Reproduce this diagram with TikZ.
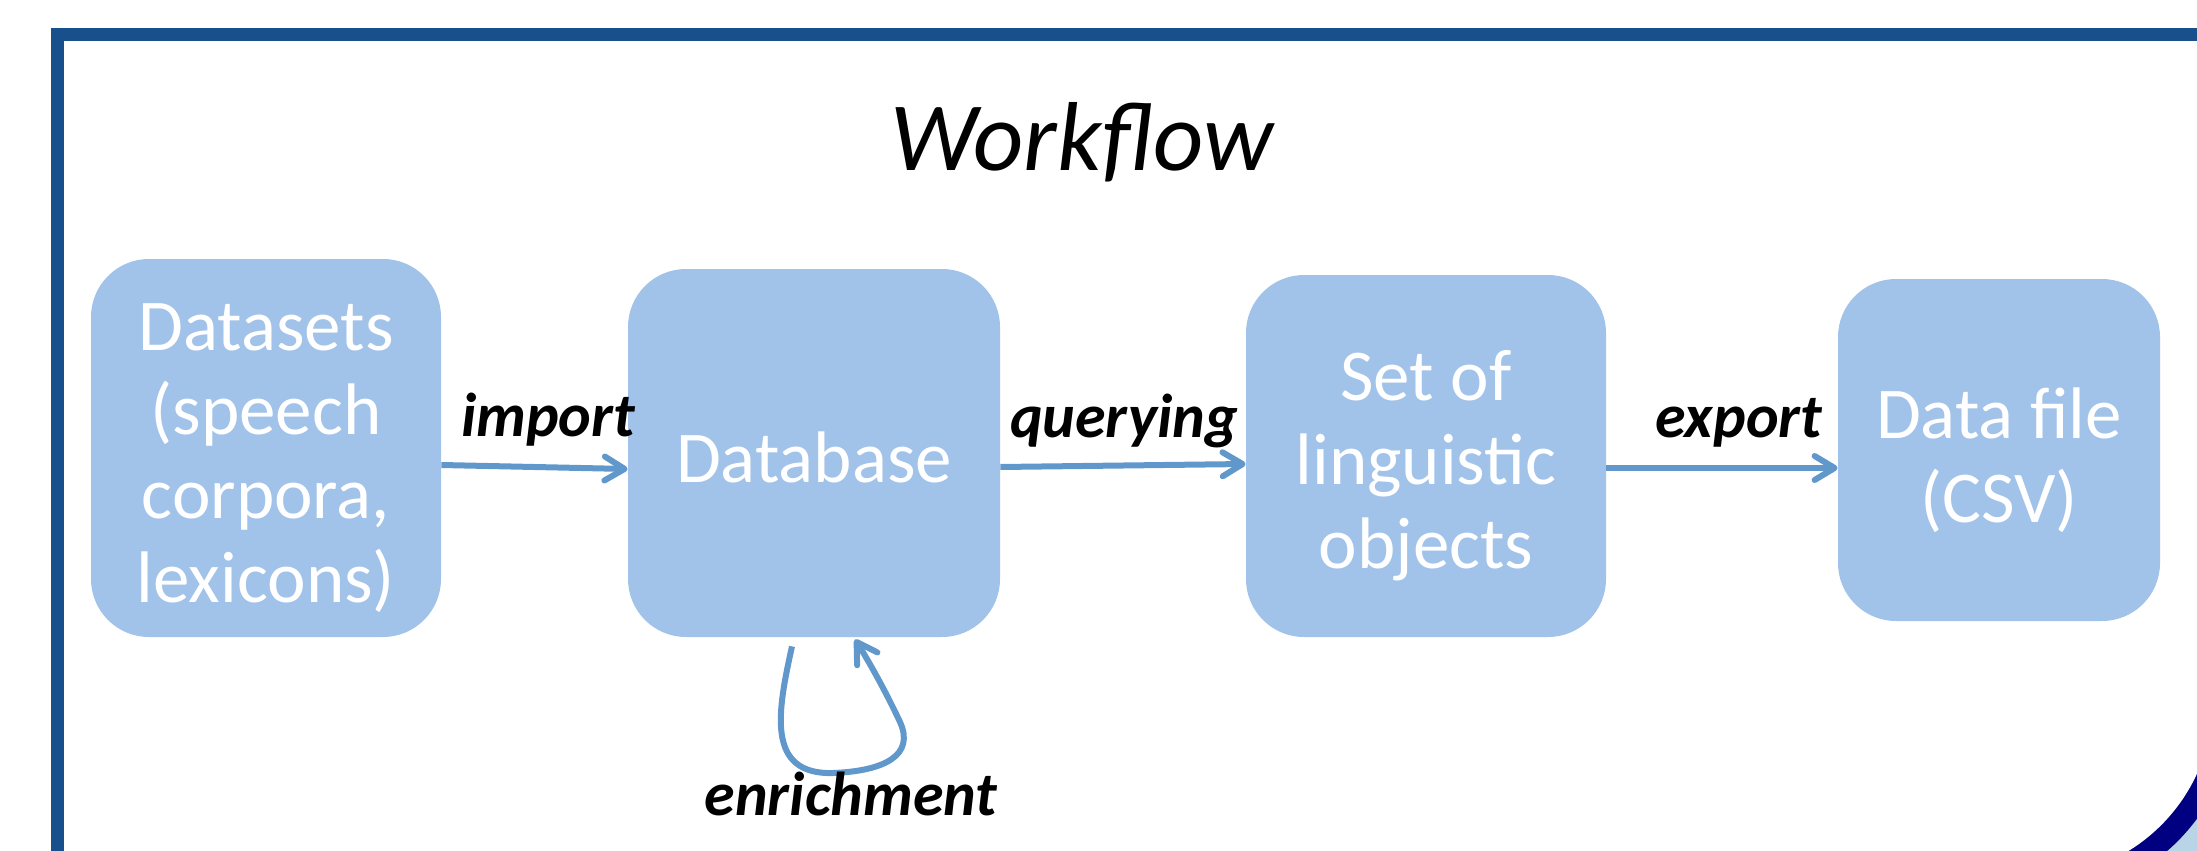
\documentclass[tikz,border=0pt]{standalone}
\usepackage{fontspec}
\setmainfont{Carlito}
\usetikzlibrary{arrows.meta,calc}

\definecolor{boxfill}{RGB}{161,194,233}
\definecolor{connblue}{RGB}{97,152,204}
\definecolor{framblue}{RGB}{23,80,138}
\definecolor{arcnavy}{RGB}{0,0,128}
\definecolor{arcfill}{RGB}{184,212,230}

\tikzset{
  stagebox/.style={fill=boxfill, rounded corners=29pt, inner sep=0pt},
  stagetext/.style={text=white, align=center, inner sep=0pt,
    font=\fontsize{36.5}{42}\selectfont},
  conn/.style={draw=connblue, line width=3pt,
    -{Straight Barb[length=10pt,width=12pt,round]}},
  edgelabel/.style={anchor=base, font=\fontsize{31}{36}\selectfont\bfseries\itshape},
  frameline/.style={draw=framblue, line width=6.5pt}
}

\begin{document}
\begin{tikzpicture}[x=0.5pt, y=-0.5pt]
  \useasboundingbox (0,0) rectangle (2197,851);

  % page frame
  \draw[frameline] (57.5,851) -- (57.5,34.5) -- (2197,34.5);

  % rounded corner of the slide at the bottom right
  \begin{scope}
    \clip (2036,700) rectangle (2197,851);
    \fill[arcfill] (2036,700) rectangle (2197,851);
    \fill[arcnavy] (2036,700) circle[radius=200];
    \fill[white] (2036,700) circle[radius=177];
  \end{scope}

  % title
  \node[anchor=base, font=\fontsize{49}{58}\selectfont\itshape] (title) at (1082,170) {Workflow};

  % stages
  \node[stagebox, minimum width=175pt, minimum height=189pt] (b1) at (266,448) {};
  \node[stagebox, minimum width=186pt, minimum height=184pt] (b2) at (814,453) {};
  \node[stagebox, minimum width=180pt, minimum height=181pt] (b3) at (1426,456) {};
  \node[stagebox, minimum width=161pt, minimum height=171pt] (b4) at (1999,450) {};

  \node[stagetext] (b1t) at ([yshift=-5pt]b1.center) {Datasets\\(speech\\corpora,\\lexicons)};
  \node[stagetext] (b2t) at ([yshift=-2pt]b2.center) {Database};
  \node[stagetext] (b3t) at ([yshift=-5pt]b3.center) {Set of\\linguistic\\objects};
  \node[stagetext] (b4t) at ([yshift=-5pt]b4.center) {Data file\\(CSV)};

  % connectors
  \draw[conn] ([yshift=-8.5pt]b1.east) -- ([yshift=-8pt]b2.west);
  \draw[conn] ([yshift=-7pt]b2.east) -- ([yshift=-4pt]b3.west);
  \draw[conn] ([yshift=-6pt]b3.east) -- ([yshift=-9pt]b4.west);

  % enrichment loop under the database
  \coordinate (loopstart) at ($(b2.south)+(-22,9)$);
  \coordinate (loopend) at ($(b2.south)+(41,2)$);
  \draw[conn] (loopstart) .. controls (778,710) and (765,775) .. (833,773)
    .. controls (885,771) and (915,755) .. (900,722)
    .. controls (885,690) and (868,660) .. (loopend);

  % connector labels
  \node[edgelabel] (limport) at (548,436) {import};
  \node[edgelabel] (lquery) at (1124,437) {querying};
  \node[edgelabel] (lexport) at (1739,437) {export};
  \node[edgelabel] (lenrich) at (851,815) {enrichment};
\end{tikzpicture}
\end{document}
